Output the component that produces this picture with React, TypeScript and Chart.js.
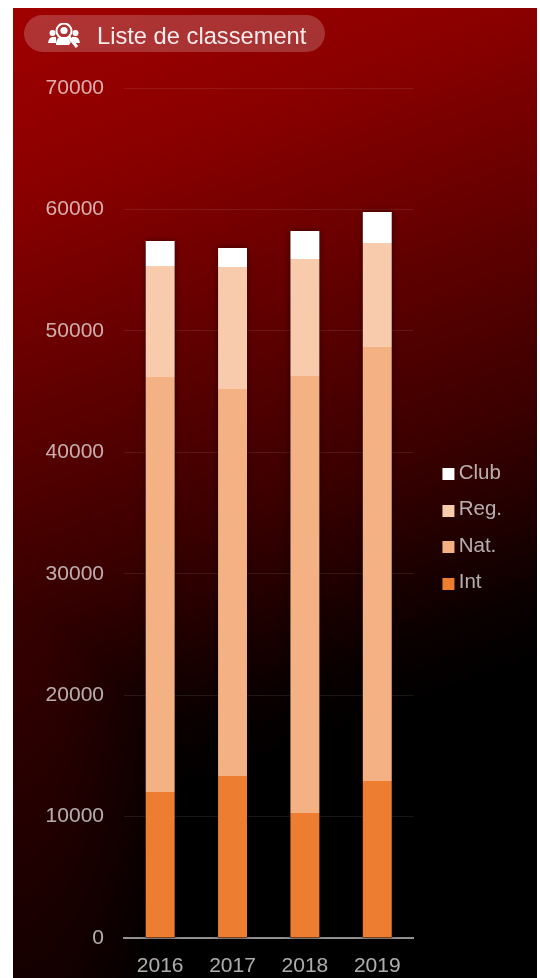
import React, { useEffect, useRef } from "react";
import { Chart, registerables } from "chart.js";

Chart.register(...registerables);

const years = ["2016", "2017", "2018", "2019"];
const intValues = [12020, 13340, 10290, 12930];
const natValues = [34180, 31870, 35990, 35740];
const regValues = [9140, 10050, 9640, 8565];
const clubValues = [2060, 1560, 2300, 2555];
const yTicks = [0, 10000, 20000, 30000, 40000, 50000, 60000, 70000];

const FONT = "'Liberation Sans', Arial, sans-serif";
const TEXT = "rgba(255,255,255,0.68)";

const barShadow = {
  id: "barShadow",
  beforeDatasetsDraw(chart: any) {
    const c = chart.ctx;
    const tops = chart.getDatasetMeta(chart.data.datasets.length - 1).data;
    const base = chart.scales.y.getPixelForValue(0);
    c.save();
    c.shadowColor = "rgba(0,0,0,0.5)";
    c.shadowBlur = 6;
    c.fillStyle = "#000";
    tops.forEach((el: any) => {
      c.fillRect(el.x - el.width / 2, el.y, el.width, base - el.y);
    });
    c.restore();
  },
};

const LEGEND_DX = 18;
const LEGEND_DY = -5;

const legendTweak = {
  id: "legendTweak",
  afterUpdate(chart: any) {
    const l = chart.legend;
    l.left += LEGEND_DX;
    l.right += LEGEND_DX;
    l.top += LEGEND_DY;
    l.bottom += LEGEND_DY;
    l.legendHitBoxes.forEach((hit: any) => {
      hit.left += LEGEND_DX;
      hit.top += LEGEND_DY;
    });
  },
  afterDraw(chart: any) {
    const l = chart.legend;
    const c = chart.ctx;
    c.save();
    l.legendItems.forEach((item: any, i: number) => {
      const hit = l.legendHitBoxes[i];
      const ds = chart.data.datasets[item.datasetIndex];
      c.fillStyle = ds.backgroundColor;
      c.fillRect(hit.left - 5, Math.round(hit.top + hit.height / 2 - 5), 12, 12);
    });
    c.restore();
  },
};

export default function App() {
  const ref = useRef<HTMLCanvasElement>(null);
  useEffect(() => {
    const chart = new Chart(ref.current!, {
      type: "bar",
      data: {
        labels: years,
        datasets: [
          { label: "Int", data: intValues, backgroundColor: "#ED7D31" },
          { label: "Nat.", data: natValues, backgroundColor: "#F4B183" },
          { label: "Reg.", data: regValues, backgroundColor: "#F8CBAD" },
          { label: "Club", data: clubValues, backgroundColor: "#FFFFFF" },
        ],
      },
      options: {
        animation: false,
        responsive: false,
        devicePixelRatio: 1,
        layout: { padding: { top: 80, bottom: 0, left: 0, right: 43 } },
        datasets: { bar: { barPercentage: 0.4, categoryPercentage: 1 } },
        plugins: {
          tooltip: { enabled: false },
          legend: {
            position: "right",
            reverse: true,
            labels: {
              boxWidth: 1,
              boxHeight: 11,
              padding: 16,
              color: TEXT,
              font: { family: FONT, size: 20.5 },
              generateLabels: (chart: any) =>
                Chart.defaults.plugins.legend.labels.generateLabels(chart).map((it: any) => ({
                  ...it,
                  fillStyle: "rgba(0,0,0,0)",
                  strokeStyle: "rgba(0,0,0,0)",
                  lineWidth: 0,
                })),
            },
          },
        },
        scales: {
          x: {
            stacked: true,
            afterFit: (s: any) => {
              s.height = 40;
            },
            grid: { display: false, drawTicks: false },
            border: { color: "rgba(255,255,255,0.55)", width: 2 },
            ticks: { color: TEXT, font: { family: FONT, size: 21 }, padding: 16, maxRotation: 0 },
          },
          y: {
            stacked: true,
            min: 0,
            max: 70000,
            afterFit: (s: any) => {
              s.width = 111;
            },
            afterBuildTicks: (axis: any) => {
              axis.ticks = yTicks.map((value) => ({ value }));
            },
            grid: { color: "rgba(255,255,255,0.09)", drawTicks: false, lineWidth: 1 },
            border: { display: false },
            ticks: {
              color: TEXT,
              font: { family: FONT, size: 21 },
              padding: 20,
              callback: (v: any) => String(v),
            },
          },
        },
      },
      plugins: [barShadow, legendTweak],
    } as any);
    return () => chart.destroy();
  }, []);

  return (
    <div
      style={{
        position: "fixed",
        left: 13,
        top: 8,
        width: 524,
        height: 970,
        overflow: "hidden",
        background:
          "radial-gradient(ellipse 200px 800px at 0px 400px, #4a0000 0%, #000000 100%), linear-gradient(160deg, #a00000 0%, #8a0000 16.4%, #3a0000 51%, #0a0000 67%, #000000 73%)",
        backgroundBlendMode: "lighten",
        fontFamily: FONT,
      }}
    >
      <canvas ref={ref} width={524} height={970} style={{ display: "block" }} />
      <div
        style={{
          position: "absolute",
          left: 11,
          top: 7,
          width: 301,
          height: 37,
          borderRadius: 19,
          background: "rgba(255,255,255,0.2)",
          color: "rgba(255,255,255,0.9)",
          fontSize: 23.7,
          lineHeight: "42px",
        }}
      >
        <svg
          width="32"
          height="26"
          viewBox="0 0 32 26"
          style={{ position: "absolute", left: 24, top: 8 }}
          fill="#fff"
        >
          <circle cx="4.5" cy="10" r="3" />
          <circle cx="27.5" cy="10" r="3" />
          <path d="M0 20 Q1 14 4.5 14 L8 14 L8 20 Z" />
          <path d="M32 20 Q31 14 27.5 14 L24 14 L24 20 Z" />
          <circle cx="16" cy="8" r="7.5" fill="none" stroke="#fff" strokeWidth="2" />
          <circle cx="16" cy="7.5" r="3.6" />
          <path d="M8 20 Q9 14 13 14 L19 14 L23 19 L21 22 L8 22 Z" />
          <path d="M21 14 L29 24" stroke="#fff" strokeWidth="3" />
        </svg>
        <span style={{ position: "absolute", left: 73, top: 0, whiteSpace: "nowrap" }}>Liste de classement</span>
      </div>
    </div>
  );
}
